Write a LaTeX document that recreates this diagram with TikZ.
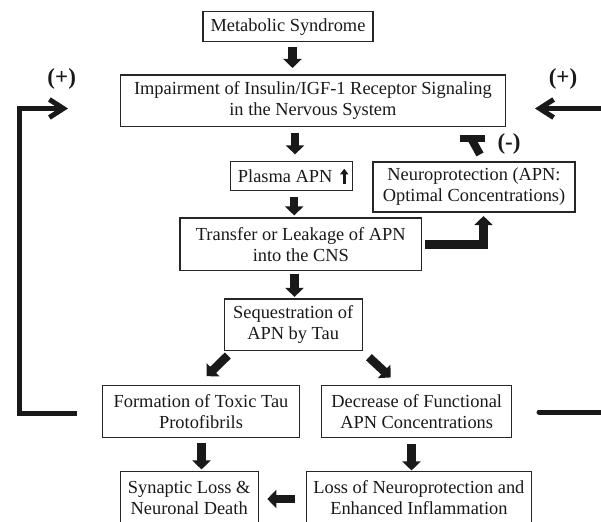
\documentclass[tikz,border=0pt]{standalone}
\usepackage{fontspec}
\setmainfont{Liberation Serif}
\usetikzlibrary{arrows.meta,calc}
\begin{document}
\begin{tikzpicture}[x=1pt,y=-1pt,
  box/.style={draw=black!85, line width=1.1pt, align=center, inner sep=0pt,
    font=\fontsize{18.4}{21}\selectfont, text=black!90},
  blk/.style={draw=black!90, line width=8.5pt, line join=miter,
    -{Triangle[length=9pt,width=18pt]}},
  fb/.style={draw=black!90, line width=5pt, line join=miter},
  barb/.style={-{Straight Barb[length=14pt,width=18pt]}},
  sign/.style={font=\fontsize{23}{26}\selectfont\bfseries, inner sep=0pt, text=black!90}]
\useasboundingbox (0,0) rectangle (601,521);

% nodes
\node[box, minimum width=170pt, minimum height=30pt] (meta) at (288,26.7) {Metabolic Syndrome};
\node[box, minimum width=385.7pt, minimum height=51.7pt] (imp) at (312.9,100.9)
  {Impairment of Insulin/IGF-1 Receptor Signaling\\in the Nervous System};
\node[box, minimum width=122pt, minimum height=28.7pt] (plasma) at (291.7,176.3) {Plasma APN\hspace{13pt}};
\node[box, minimum width=202pt, minimum height=50pt] (neuro) at (474,187)
  {Neuroprotection (APN:\\Optimal Concentrations)};
\node[box, minimum width=241.7pt, minimum height=52.7pt] (transfer) at (300.8,244.3)
  {Transfer or Leakage of APN\\into the CNS};
\node[box, minimum width=138.3pt, minimum height=51.7pt] (seq) at (293.2,324.8)
  {Sequestration of\\APN by Tau};
\node[box, minimum width=196.6pt, minimum height=51.6pt] (form) at (201,411.5)
  {Formation of Toxic Tau\\Protofibrils};
\node[box, minimum width=190pt, minimum height=51.6pt] (dec) at (416.7,411.5)
  {Decrease of Functional\\APN Concentrations};
\node[box, minimum width=138.3pt, minimum height=52pt] (syn) at (189.2,497.7)
  {Synaptic Loss \&\\Neuronal Death};
\node[box, minimum width=224.3pt, minimum height=52pt] (loss) at (418.9,497.7)
  {Loss of Neuroprotection and\\Enhanced Inflammation};

% small up arrow inside Plasma APN
\coordinate (pa1) at ($(plasma.east)+(-9,7.5)$);
\coordinate (pa2) at ($(plasma.east)+(-9,-7.5)$);
\draw[draw=black!90, line width=3.5pt, -{Triangle[length=5.5pt,width=8pt]}] (pa1) -- (pa2);

% signs
\node[sign] (plusL) at (61.7,78.7) {(+)};
\node[sign] (plusR) at (563,78.7) {(+)};
\node[sign] (minus) at (509,144) {(-)};

% block arrows
\draw[blk] ($(meta.south)+(4.5,5)$) -- ($(imp.north)+(-20.4,-6.5)$);
\draw[blk] ($(imp.south)+(-17.9,5.5)$) -- ($(plasma.north)+(3.3,-7)$);
\draw[blk] ($(plasma.south)+(2.5,5.5)$) -- ($(transfer.north)+(-6.6,-2)$);
\draw[blk] ($(transfer.south)+(-6.3,2.5)$) -- ($(seq.north)+(1.3,-1.5)$);
\draw[blk] ($(seq.south west)+(4.3,4.3)$) -- ($(form.north)+(5.7,-9)$);
\draw[blk] ($(seq.south east)+(6,6)$) -- ($(dec.north)+(-26,-7.7)$);
\draw[blk] ($(form.south)+(0.5,5.4)$) -- ($(syn.north)+(12.3,-1.7)$);
\draw[blk] ($(dec.south)+(-5.2,5.7)$) -- ($(loss.north)+(-7.4,-0.7)$);
\draw[blk] ($(loss.west)+(-11.7,1.3)$) -- ($(syn.east)+(8.4,1.3)$);
\draw[blk] ($(transfer.east)+(3,0)$) -| ($(neuro.south)+(9.5,3.5)$);

% inhibition from Neuroprotection to Impairment
\coordinate (inhS) at ($(neuro.north)+(6,-7)$);
\coordinate (inhT) at (472,140);
\draw[draw=black!90, line width=8pt] (inhS) -- (inhT);
\fill[black!90] (460,135) rectangle (485,142);

% feedback loops
\coordinate (fbL0) at (77,413);
\coordinate (fbL1) at (19,413);
\coordinate (fbL2) at (19,108.5);
\coordinate (fbL3) at (68,108.5);
\draw[fb, barb] (fbL0) -- (fbL1) -- (fbL2) -- (fbL3);
\coordinate (fbR0) at (615,108.5);
\coordinate (fbR1) at (535,108.5);
\draw[fb, barb] (fbR0) -- (fbR1);
\coordinate (fbR2) at (539,412);
\coordinate (fbR3) at (615,412);
\draw[fb, line cap=round] (fbR2) -- (fbR3);
\end{tikzpicture}
\end{document}
